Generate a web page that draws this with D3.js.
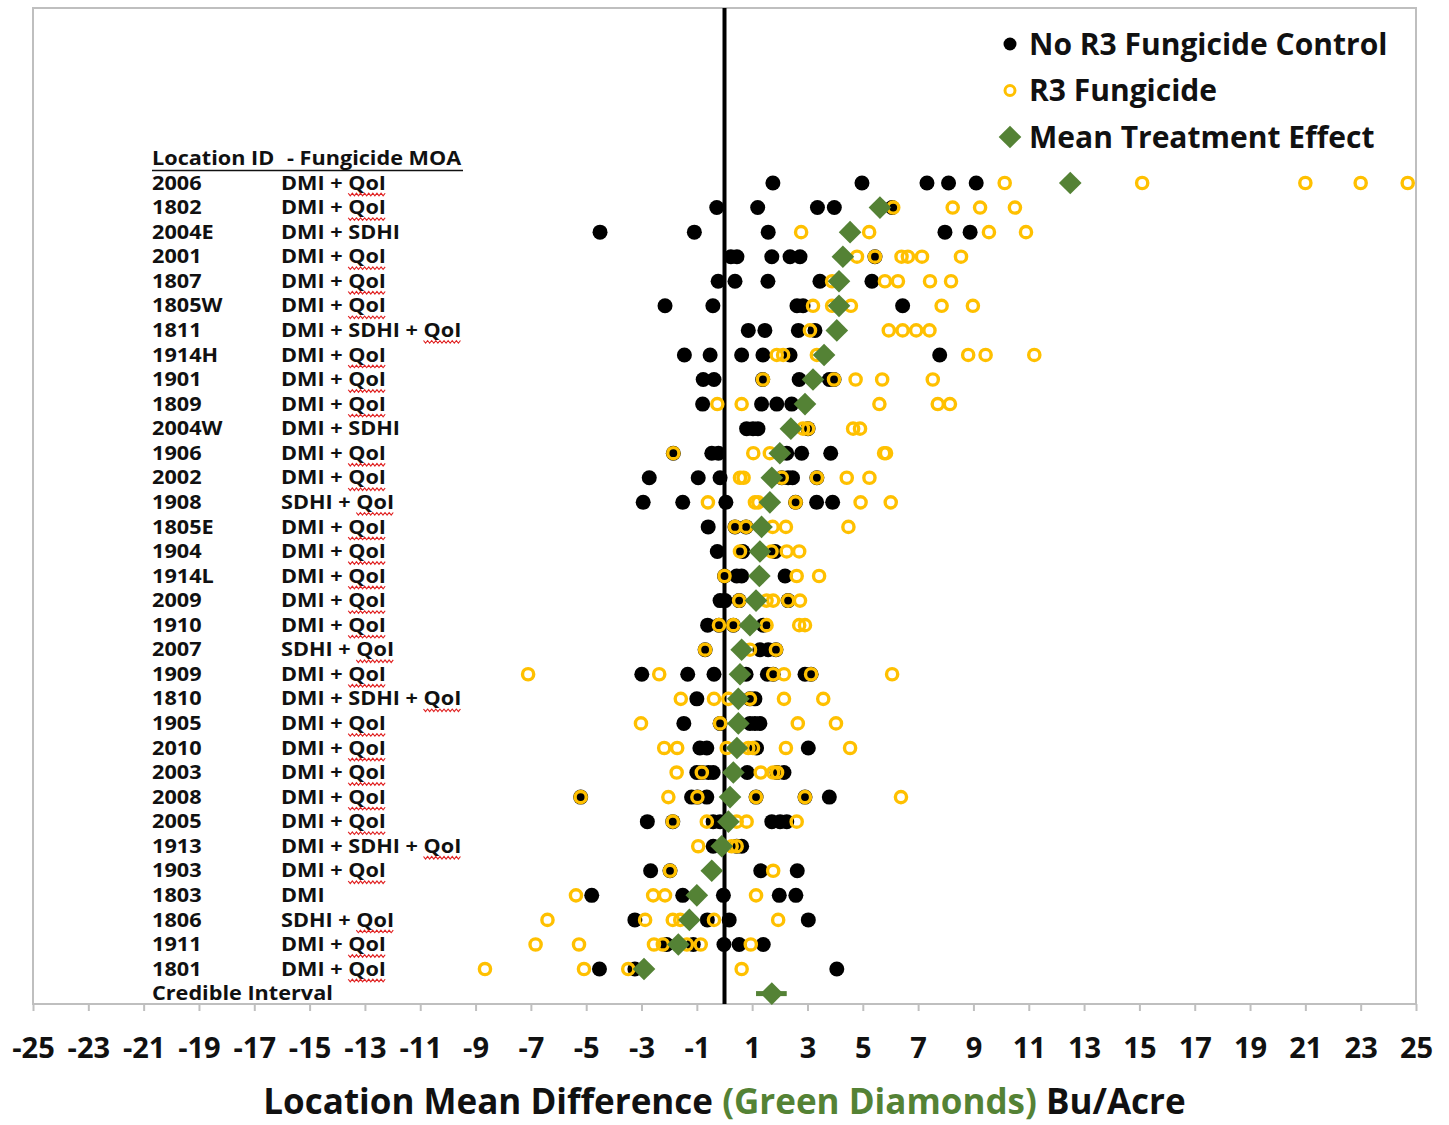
<!DOCTYPE html>
<html>
<head>
<meta charset="utf-8">
<script src="https://cdn.jsdelivr.net/npm/d3@7/dist/d3.min.js"></script>
<style>
  body { margin: 0; background: #fff; }
  text { font-family: "Open Sans", Lato, sans-serif; font-weight: bold; fill: #111; }
</style>
</head>
<body>
<svg id="chart" width="1449" height="1125"></svg>
<script>
/*========== Data ===========*/
var locations = ["2006", "1802", "2004E", "2001", "1807", "1805W", "1811", "1914H", "1901", "1809",
    "2004W", "1906", "2002", "1908", "1805E", "1904", "1914L", "2009", "1910", "2007", "1909",
    "1810", "1905", "2010", "2003", "2008", "2005", "1913", "1903", "1803", "1806", "1911", "1801"];

var moa = ["DMI + QoI", "DMI + QoI", "DMI + SDHI", "DMI + QoI", "DMI + QoI", "DMI + QoI",
    "DMI + SDHI + QoI", "DMI + QoI", "DMI + QoI", "DMI + QoI", "DMI + SDHI", "DMI + QoI",
    "DMI + QoI", "SDHI + QoI", "DMI + QoI", "DMI + QoI", "DMI + QoI", "DMI + QoI", "DMI + QoI",
    "SDHI + QoI", "DMI + QoI", "DMI + SDHI + QoI", "DMI + QoI", "DMI + QoI", "DMI + QoI",
    "DMI + QoI", "DMI + QoI", "DMI + SDHI + QoI", "DMI + QoI", "DMI", "SDHI + QoI",
    "DMI + QoI", "DMI + QoI"];

// no R3 fungicide control, per location
var control = [
    [1.75, 4.97, 7.32, 8.1, 9.1],
    [-0.28, 1.2, 3.36, 3.97, 6.06],
    [-4.5, -1.09, 1.58, 7.97, 8.88],
    [0.23, 0.45, 1.71, 2.37, 2.73, 5.44],
    [-0.23, 0.38, 1.57, 3.45, 5.33],
    [-2.15, -0.42, 2.62, 2.84, 6.44],
    [0.86, 1.46, 2.67, 3.27],
    [-1.45, -0.52, 0.62, 1.39, 2.37, 7.78],
    [-0.77, -0.38, 1.38, 2.7, 3.79, 3.96],
    [-0.79, 1.34, 1.89, 2.43],
    [0.8, 1.03, 1.21, 3.02],
    [-1.85, -0.46, -0.22, 2.25, 2.79, 3.84],
    [-2.72, -0.95, -0.16, 2.07, 2.3, 2.46, 3.34],
    [-2.94, -1.51, 0.05, 2.57, 3.33, 3.91],
    [-0.59, 0.38, 0.78],
    [-0.26, 0.66, 1.83],
    [0, 0.44, 0.62, 2.19],
    [-0.16, 0.02, 0.53, 2.3],
    [-0.61, -0.2, 0.32, 1.4],
    [-0.7, 1.28, 1.58, 1.86],
    [-2.99, -1.33, -0.38, 0.78, 1.55, 1.76, 2.91, 3.13],
    [-1.0, 0.92, 1.1],
    [-1.47, -0.16, 0.92, 1.1, 1.28],
    [-0.89, -0.64, 1.16, 3.03],
    [-1.0, -0.82, -0.58, -0.41, 0.82, 1.9, 2.15],
    [-5.2, -1.19, -0.98, -0.64, 1.14, 2.91, 3.79],
    [-2.79, -1.87, -0.41, -0.16, 1.71, 2.01, 2.25],
    [-0.41, 0.44, 0.62],
    [-2.67, -1.97, 1.31, 2.63],
    [-4.8, -1.51, -0.04, 1.98, 2.58],
    [-3.24, -0.62, 0.17, 3.03],
    [-2.09, -1.13, -0.02, 0.53, 1.4],
    [-4.52, -3.24, 4.06]
];

// R3 fungicide, per location
var fungicide = [
    [10.13, 15.1, 21.0, 23.0, 24.7],
    [6.1, 8.25, 9.24, 10.5],
    [2.77, 5.23, 9.56, 10.9],
    [4.79, 5.44, 6.4, 6.63, 7.14, 8.55],
    [3.89, 5.8, 6.27, 7.43, 8.19],
    [3.2, 3.89, 4.57, 7.85, 8.98],
    [3.09, 5.94, 6.44, 6.93, 7.41],
    [1.89, 2.12, 3.34, 8.81, 9.44, 11.2],
    [1.39, 3.96, 4.74, 5.7, 7.53],
    [-0.26, 0.62, 5.6, 7.71, 8.15],
    [2.84, 3.02, 4.65, 4.9],
    [-1.85, 1.04, 1.64, 5.77, 5.84],
    [0.56, 0.69, 2.07, 3.34, 4.42, 5.24],
    [-0.6, 1.1, 1.22, 2.57, 4.92, 6.01],
    [0.38, 0.78, 1.74, 2.22, 4.48],
    [0.56, 1.7, 2.25, 2.7],
    [0, 2.61, 3.42],
    [0.53, 1.52, 1.76, 2.3, 2.73],
    [-0.2, 0.32, 1.52, 2.7, 2.91],
    [-0.7, 0.92, 1.86],
    [-7.1, -2.36, 1.76, 2.15, 3.13, 6.06],
    [-1.58, -0.38, 0.14, 0.92, 2.15, 3.57],
    [-3.02, -0.16, 2.65, 4.03],
    [-2.18, -1.71, 0.08, 0.86, 1.03, 2.22, 4.54],
    [-1.73, -0.82, 1.31, 1.76, 1.9],
    [-5.2, -2.03, -0.98, 1.14, 2.91, 6.38],
    [-1.87, -0.64, 0.44, 0.8, 2.61],
    [-0.95, 0.26, 0.44],
    [-1.97, 1.76],
    [-5.37, -2.58, -2.15, 1.14],
    [-6.4, -2.87, -1.87, -1.6, -0.38, 1.94],
    [-6.83, -5.26, -2.55, -2.23, -1.36, -0.86, 0.95],
    [-8.66, -5.08, -3.48, 0.62]
];

// mean treatment effect (green diamonds)
var effect = [12.5, 5.62, 4.54, 4.28, 4.14, 4.14, 4.06, 3.6, 3.2, 2.91, 2.4, 2.0, 1.71, 1.64,
    1.34, 1.28, 1.26, 1.14, 0.92, 0.62, 0.56, 0.5, 0.5, 0.45, 0.32, 0.2, 0.14, -0.1, -0.46,
    -1.0, -1.27, -1.67, -2.91];

var credible = { mean: 1.71, low: 1.14, high: 2.25 };
var xTicks = d3.range(-25, 26, 2);

/*========== Setup ===========*/
var orange = "#FFC000", green = "#548235";
var svg = d3.select("#chart");
var plotLeft = 33, plotRight = 1416, plotTop = 8, plotBottom = 1004;
var labelSize = "19px", labelStretch = 1.14;   // the labels in the original are wide for their height

var x = d3.scaleLinear().domain([-25, 25]).range([plotLeft, plotRight]);
var rows = locations.concat(["Credible Interval"]);
var y = d3.scalePoint().domain(rows).range([183, 993.6]);

// frame
svg.append("rect")
    .attr("x", plotLeft).attr("y", plotTop)
    .attr("width", plotRight - plotLeft).attr("height", plotBottom - plotTop)
    .attr("fill", "none").attr("stroke", "#bfbfbf").attr("stroke-width", 2);

// x axis
var axis = svg.append("g")
    .attr("transform", "translate(0," + plotBottom + ")")
    .call(d3.axisBottom(x).tickValues(xTicks).tickSize(7).tickFormat(function (d) { return String(d); }));
axis.select(".domain").remove();
axis.selectAll("line").attr("stroke", "#bfbfbf").attr("stroke-width", 2);
axis.selectAll("text")
    .attr("y", 44).attr("dy", "0.35em")
    .style("font-size", "29px").style("font-family", "\"Open Sans\", sans-serif").style("font-weight", "bold")
    .attr("fill", "#111");

// axis title
var title = svg.append("text")
    .attr("x", x(0)).attr("y", 1102).attr("dy", "0.35em")
    .attr("text-anchor", "middle")
    .style("font-size", "35px");
title.append("tspan").text("Location Mean Difference ");
title.append("tspan").style("fill", green).text("(Green Diamonds)");
title.append("tspan").text(" Bu/Acre");

// zero line
svg.append("line")
    .attr("x1", x(0)).attr("x2", x(0))
    .attr("y1", plotTop).attr("y2", plotBottom)
    .attr("stroke", "#000").attr("stroke-width", 4);

/*========== Row labels ===========*/
var idCol = svg.append("g").attr("transform", "translate(152,0) scale(" + labelStretch + ",1)");
var moaCol = svg.append("g").attr("transform", "translate(281,0) scale(" + labelStretch + ",1)");

var header = idCol.append("text")
    .attr("x", 0).attr("y", 158).attr("dy", "0.35em")
    .style("font-size", labelSize);
header.append("tspan").text("Location ID");
header.append("tspan").attr("x", (287 - 152) / labelStretch).text("- Fungicide MOA");
svg.append("line")
    .attr("x1", 152).attr("x2", 463).attr("y1", 170.5).attr("y2", 170.5)
    .attr("stroke", "#111").attr("stroke-width", 1.5);

idCol.selectAll(".rowLabel")
    .data(rows)
    .enter().append("text")
    .attr("class", "rowLabel")
    .attr("x", 0)
    .attr("y", function (d) { return y(d); })
    .attr("dy", "0.35em")
    .style("font-size", labelSize)
    .text(function (d) { return d; });

var moaLabels = moaCol.selectAll(".moaLabel")
    .data(moa)
    .enter().append("text")
    .attr("class", "moaLabel")
    .attr("x", 0)
    .attr("y", function (d, i) { return y(locations[i]); })
    .attr("dy", "0.35em")
    .style("font-size", labelSize)
    .text(function (d) { return d; });

// spell-check squiggles under "QoI"
var squiggles = moaCol.append("g");
moaLabels.each(function (d, i) {
    var k = d.indexOf("QoI");
    if (k < 0) return;
    var x0 = this.getSubStringLength(0, k);
    var x1 = this.getSubStringLength(0, d.length);
    var yy = y(locations[i]) + 11.5;
    var pts = [];
    for (var px = x0, n = 0; px <= x1; px += 1.8, n++) pts.push([px, yy + (n % 2 ? 1.3 : -1.3)]);
    squiggles.append("path")
        .attr("d", d3.line()(pts))
        .attr("fill", "none").attr("stroke", "#e02020").attr("stroke-width", 1);
});

/*========== Points ===========*/
function flatten(arr) {
    var out = [];
    arr.forEach(function (vals, i) {
        vals.forEach(function (v) { out.push({ loc: locations[i], v: v }); });
    });
    return out;
}

svg.append("g").selectAll("circle")
    .data(flatten(control))
    .enter().append("circle")
    .attr("cx", function (d) { return x(d.v); })
    .attr("cy", function (d) { return y(d.loc); })
    .attr("r", 7.5)
    .attr("fill", "#000");

svg.append("g").selectAll("circle")
    .data(flatten(fungicide))
    .enter().append("circle")
    .attr("cx", function (d) { return x(d.v); })
    .attr("cy", function (d) { return y(d.loc); })
    .attr("r", 5.6)
    .attr("fill", "none")
    .attr("stroke", orange)
    .attr("stroke-width", 3.4);

// credible interval bar
svg.append("line")
    .attr("x1", x(credible.low)).attr("x2", x(credible.high))
    .attr("y1", y("Credible Interval")).attr("y2", y("Credible Interval"))
    .attr("stroke", green).attr("stroke-width", 5);

var diamond = d3.symbol().type(d3.symbolSquare).size(256);
svg.append("g").selectAll("path")
    .data(effect.map(function (v, i) { return { loc: locations[i], v: v }; })
        .concat([{ loc: "Credible Interval", v: credible.mean }]))
    .enter().append("path")
    .attr("d", diamond)
    .attr("transform", function (d) {
        return "translate(" + x(d.v) + "," + y(d.loc) + ") rotate(45)";
    })
    .attr("fill", green);

/*========== Legend ===========*/
var legend = svg.append("g");
var legendItems = ["No R3 Fungicide Control", "R3 Fungicide", "Mean Treatment Effect"];
legendItems.forEach(function (label, i) {
    var ly = 44 + i * 46.5;
    if (i === 0) {
        legend.append("circle").attr("cx", 1010).attr("cy", ly).attr("r", 6.5).attr("fill", "#000");
    } else if (i === 1) {
        legend.append("circle").attr("cx", 1010).attr("cy", ly).attr("r", 5)
            .attr("fill", "none").attr("stroke", orange).attr("stroke-width", 3);
    } else {
        legend.append("path").attr("d", diamond)
            .attr("transform", "translate(1010," + ly + ") rotate(45)").attr("fill", green);
    }
    legend.append("text")
        .attr("x", 1029).attr("y", ly).attr("dy", "0.35em")
        .style("font-size", "30px")
        .text(label);
});
</script>
</body>
</html>
